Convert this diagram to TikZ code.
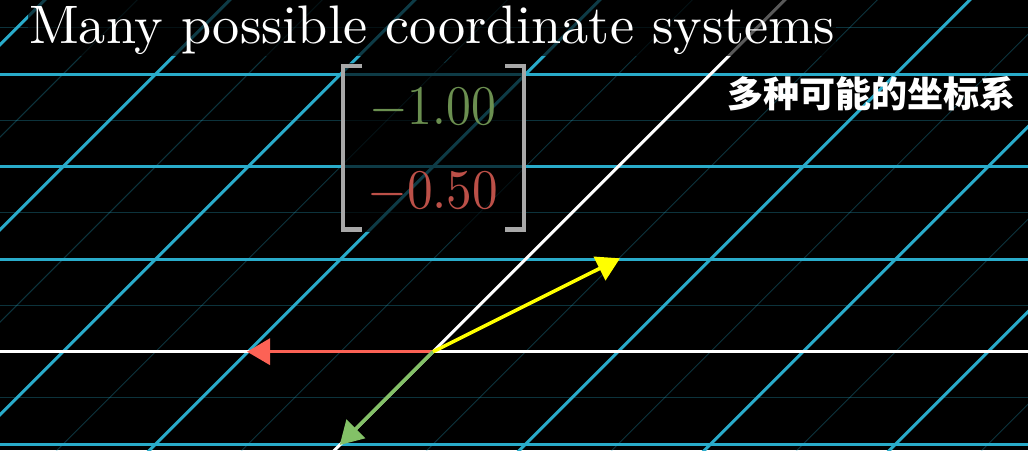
\documentclass[tikz,border=0pt]{standalone}
\usepackage{fontspec}
\usetikzlibrary{arrows.meta}
\newfontfamily\cjk{Noto Sans CJK SC}
\definecolor{gridblue}{HTML}{29ABCA}
\definecolor{vred}{HTML}{FC6255}
\definecolor{vgreen}{HTML}{83C167}
\definecolor{vyellow}{HTML}{FFFF00}
\definecolor{mgreen}{HTML}{6B8F50}
\definecolor{mred}{HTML}{BC5048}
\definecolor{brk}{HTML}{A8A8A8}
\begin{document}
\begin{tikzpicture}[x=1pt,y=-1pt,
  mainline/.style={gridblue, line width=3pt},
  faintline/.style={gridblue, opacity=0.3, line width=1pt},
  axisline/.style={white, line width=3pt},
  vec/.style={line width=3.5pt, -{Triangle[length=23pt,width=26pt]}},
  dimbg/.style={fill=black, fill opacity=0.65},
  bracket/.style={brk, line width=4.5pt, line join=miter},
]
\fill[black] (0,0) rectangle (1028,450);
\useasboundingbox (0,0) rectangle (1028,450);
\begin{scope}
\clip (0,0) rectangle (1028,450);
% faint lines
\foreach \k in {-1,...,3} {
  \draw[faintline] (-10,{351.7-92.5*\k-46.25}) -- (1040,{351.7-92.5*\k-46.25});
}
\foreach \m in {-6,...,4} {
  \draw[faintline] ({794.7+92.5+185*\m},-10) -- ({324.7+92.5+185*\m},460);
}
% main lines
\foreach \k in {-1,1,2,3,4} {
  \draw[mainline] (-10,{351.7-92.5*\k}) -- (1040,{351.7-92.5*\k});
}
\foreach \m in {-5,...,-1,1,2,3,4} {
  \draw[mainline] ({794.7+185*\m},-10) -- ({324.7+185*\m},460);
}
% axes
\draw[axisline] (-10,351.7) -- (1040,351.7);
\draw[axisline] (794.7,-10) -- (324.7,460);
\end{scope}
% dimming backgrounds
\fill[dimbg] (28,0) rectangle (836,56);
\fill[dimbg] (341,63) rectangle (526,232);
% title
\node[anchor=base west, inner sep=0, text=white] (title) at (29,43)
  {\resizebox{806pt}{!}{Many possible coordinate systems}};
% matrix
\draw[bracket] (362,65.8) -- (343,65.8) -- (343,229.5) -- (362,229.5);
\draw[bracket] (505,65.8) -- (524,65.8) -- (524,229.5) -- (505,229.5);
\node[anchor=base west, inner sep=0, text=mgreen] (e1) at (369,124)
  {\resizebox{127pt}{36pt}{$-1.00$}};
\node[anchor=base west, inner sep=0, text=mred] (e2) at (367,208)
  {\resizebox{131pt}{36pt}{$-0.50$}};
% subtitle
\node[anchor=base, inner sep=0, text=white, font=\cjk\bfseries\fontsize{36}{40}\selectfont] (sub) at (871.5,107)
  {多种可能的坐标系};
% vectors
\coordinate (O) at (433,351.7);
\coordinate (R) at (247,351.7);
\coordinate (G) at (339.7,445);
\coordinate (Y) at (620,258.3);
\draw[vec, vred] (O) -- (R);
\draw[vec, vgreen] (O) -- (G);
\draw[vec, vyellow] (O) -- (Y);
\end{tikzpicture}
\end{document}
